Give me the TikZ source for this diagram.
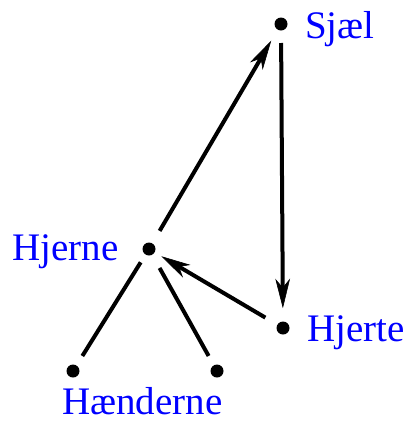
\documentclass[tikz,border=0pt]{standalone}
\usepackage{fontspec}
\setmainfont{Liberation Serif}
\usetikzlibrary{calc}
\begin{document}
\begin{tikzpicture}[x=1pt,y=-1pt,
  dot/.style={circle,fill=black,inner sep=0pt,minimum size=13pt},
  lbl/.style={anchor=base west,inner sep=0pt,text=blue,font=\fontsize{39}{47}\selectfont},
  conn/.style={line width=4pt},
  head/.style={fill=black,draw=black,line width=0.6pt,line join=miter}]
\useasboundingbox (0,0) rectangle (406,421);
\node[dot] (s) at (281,24) {};
\node[dot] (h) at (149,249) {};
\node[dot] (t) at (283,328) {};
\node[dot] (bl) at (73,371) {};
\node[dot] (br) at (217,371) {};
\node[lbl] (ls) at (305,38) {Sjæl};
\node[lbl] (lt) at (307,341) {Hjerte};
\node[lbl] (lh) at (12,260) {Hjerne};
\node[lbl] (lb) at (62,414) {Hænderne};
% arrow end points
\coordinate (a1) at ($(h)!21pt!(s)$);
\coordinate (p1) at ($(s)!20.5pt!(h)$);
\coordinate (a2) at ($(s)!19pt!(t)$);
\coordinate (p2) at ($(t)!21pt!(s)$);
\coordinate (a3) at ($(t)!20.5pt!(h)$);
\coordinate (p3) at ($(h)!15.5pt!(t)$);
% shafts
\draw[conn] (a1) -- ($(p1)!18pt!(h)$);
\draw[conn] (a2) -- ($(p2)!18pt!(s)$);
\draw[conn] (a3) -- ($(p3)!18pt!(t)$);
% heads
\filldraw[head] (p1) -- ($(p1)!28pt!14:(h)$) -- ($(p1)!19pt!(h)$) -- ($(p1)!28pt!-14:(h)$) -- cycle;
\filldraw[head] (p2) -- ($(p2)!28pt!14:(s)$) -- ($(p2)!19pt!(s)$) -- ($(p2)!28pt!-14:(s)$) -- cycle;
\filldraw[head] (p3) -- ($(p3)!28pt!14:(t)$) -- ($(p3)!19pt!(t)$) -- ($(p3)!28pt!-14:(t)$) -- cycle;
% plain lines
\draw[conn,shorten <=9pt,shorten >=11pt] (h) -- (bl);
\draw[conn,shorten <=15pt,shorten >=10.5pt] (h) -- (br);
\end{tikzpicture}
\end{document}
